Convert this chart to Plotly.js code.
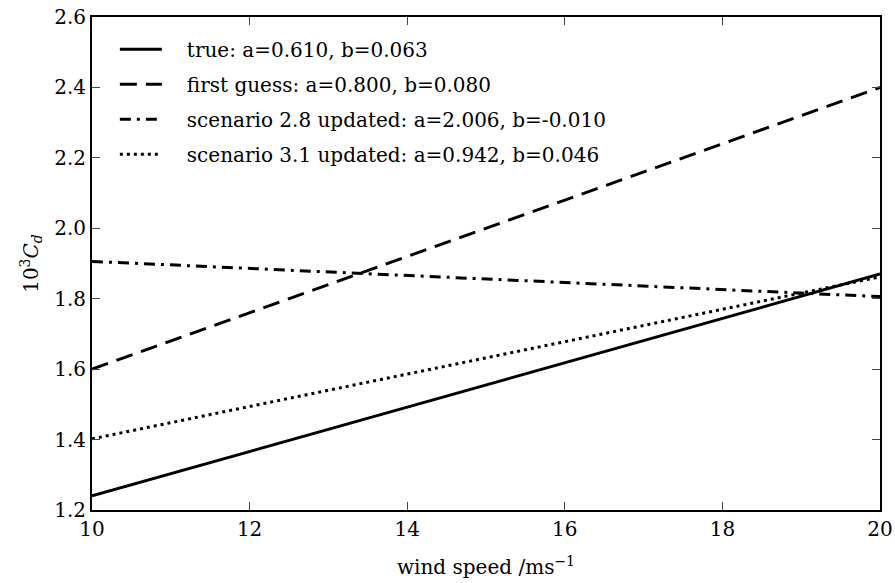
<!DOCTYPE html>
<html><head><meta charset="utf-8">
<script src="https://cdn.plot.ly/plotly-3.0.1.min.js"></script>
<style>body{margin:0;background:#fff}#plot{width:895px;height:583px}</style>
</head><body><div id="plot"></div>
<script>
const windSpeed = [10, 20];
const trueCd = [1.24, 1.87];
const firstGuessCd = [1.60, 2.40];
const scen28Cd = [1.906, 1.806];
const scen31Cd = [1.402, 1.862];
const seriesNames = [
  "true: a=0.610, b=0.063",
  "first guess: a=0.800, b=0.080",
  "scenario 2.8 updated: a=2.006, b=-0.010",
  "scenario 3.1 updated: a=0.942, b=0.046"
];
const xTicks = [10, 12, 14, 16, 18, 20];
const yTicks = [1.2, 1.4, 1.6, 1.8, 2.0, 2.2, 2.4, 2.6];

const font = "DejaVu Serif, Liberation Serif, serif";
const fs = 20;
const dashes = ["solid", "17px,9px", "11px,6px,3px,6px", "3px,4px"];
const ys = [trueCd, firstGuessCd, scen28Cd, scen31Cd];
const data = ys.map((y, i) => ({
  x: windSpeed, y: y, type: "scatter", mode: "lines", name: "\u2003" + seriesNames[i],
  legendgroup: "g" + i,
  line: {color: "#000", width: 3, dash: dashes[i]}
}));
const layout = {
  width: 895, height: 583,
  margin: {l: 92, r: 15, t: 17, b: 73},
  paper_bgcolor: "#fff", plot_bgcolor: "#fff",
  font: {family: font, size: fs, color: "#000"},
  showlegend: true,
  legend: {x: 0.029, y: 0.974, xanchor: "left", yanchor: "top", bgcolor: "rgba(0,0,0,0)",
           traceorder: "grouped", tracegroupgap: 6, itemwidth: 42,
           font: {family: font, size: fs, color: "#000"}},
  xaxis: {range: [10, 20], tickvals: xTicks, ticktext: xTicks.map(String),
          ticks: "inside", ticklen: 8, tickcolor: "#444", mirror: "ticks",
          showline: true, linecolor: "#000", linewidth: 2, showgrid: false, zeroline: false,
          tickfont: {family: font, size: fs},
          title: {text: "wind speed /ms<sup>−1</sup>", font: {family: font, size: fs}, standoff: 20}},
  yaxis: {range: [1.2, 2.6], tickvals: yTicks, ticktext: yTicks.map(v => v.toFixed(1)),
          ticks: "inside", ticklen: 8, tickcolor: "#444", mirror: "ticks",
          showline: true, linecolor: "#000", linewidth: 2, showgrid: false, zeroline: false,
          tickfont: {family: font, size: fs},
          title: {text: "10<sup>3</sup><i>C<sub>d</sub></i>", font: {family: font, size: fs}, standoff: 10}}
};
Plotly.newPlot("plot", data, layout, {displayModeBar: false});
</script></body></html>
